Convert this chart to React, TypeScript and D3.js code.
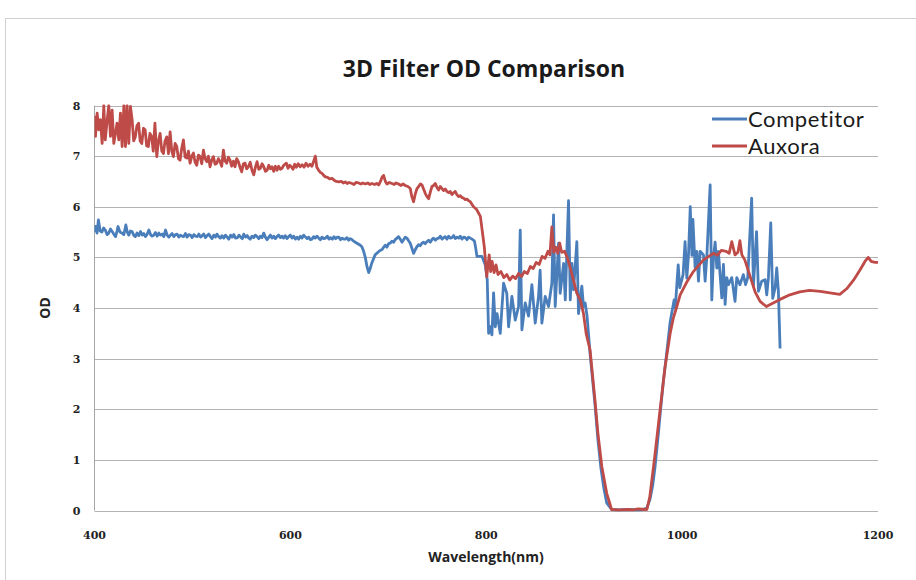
import * as d3 from "d3";

// wavelength (nm), OD pairs
const auxora: [number, number][] = [
  [400, 7.8], [401, 7.39], [402.7, 7.85], [404.4, 7.52], [406, 7.72], [407.8, 7.25], [409.5, 8.0],
  [411, 7.32], [413, 7.72], [414.6, 8.0], [416.3, 7.39], [418, 7.91], [419.7, 7.25], [421.4, 7.45],
  [423, 7.65], [424.8, 7.32], [426.5, 7.85], [428.2, 7.19], [430, 8.0], [431.6, 7.19], [433.3, 8.0],
  [435, 7.25], [436.7, 7.98], [438.4, 7.72], [440, 7.3], [441.7, 7.38], [443.3, 7.6], [445, 7.65],
  [446.6, 7.3], [448.3, 7.25], [450, 7.55], [451.7, 7.52], [453.3, 7.2], [455, 7.19], [456.6, 7.45],
  [458.3, 7.39], [460, 7.1], [461.7, 7.65], [463.6, 6.99], [465.3, 7.3], [467, 7.45], [468.7, 7.1],
  [470.4, 7.05], [472, 7.3], [473.8, 7.38], [475.5, 7.05], [477.2, 7.48], [478.9, 7.1], [480.6, 6.99],
  [482.3, 7.25], [484, 7.19], [485.7, 6.95], [487.4, 6.92], [489, 7.15], [490.8, 7.32], [492.5, 6.98],
  [494.2, 6.96], [495.9, 7.1], [497.6, 6.86], [499.3, 7.0], [501, 7.06], [502.7, 6.88], [504.4, 6.82],
  [506.1, 7.02], [507.8, 6.99], [509.5, 6.85], [511.2, 7.12], [512.9, 6.95], [514.6, 6.89], [516.3, 7.0],
  [518, 6.79], [519.7, 6.92], [521.4, 6.99], [523.1, 6.84], [524.8, 6.86], [526.5, 6.95], [528.2, 6.89],
  [529.9, 6.8], [531.6, 7.12], [533.3, 6.9], [535, 6.86], [536.7, 6.98], [538.4, 6.92], [540, 6.8],
  [541.8, 6.9], [543.5, 6.79], [545.2, 6.95], [546.9, 6.89], [548.6, 6.78], [550.3, 6.69], [552, 6.85],
  [553.7, 6.86], [555.4, 6.75], [557.1, 6.79], [559, 6.88], [560.8, 6.72], [562.6, 6.63], [564.3, 6.78],
  [566, 6.89], [567.7, 6.74], [569.4, 6.76], [571.1, 6.85], [572.8, 6.79], [574.5, 6.7], [576.2, 6.72],
  [578, 6.82], [579.6, 6.75], [581.3, 6.79], [583, 6.7], [584.7, 6.8], [586.4, 6.72], [588, 6.8],
  [589.8, 6.74], [591.5, 6.76], [593.2, 6.82], [595.9, 6.86], [597.6, 6.76], [599.3, 6.82], [601, 6.79],
  [602.7, 6.74], [604.4, 6.84], [606, 6.78], [608, 6.85], [610, 6.79], [612, 6.83], [614, 6.78],
  [616, 6.86], [618, 6.8], [620, 6.84], [622, 6.8], [623.8, 6.9], [625.5, 7.0], [627, 6.78],
  [628.9, 6.72], [630.6, 6.68], [632.3, 6.66], [634, 6.62], [635.7, 6.59], [638, 6.58], [640, 6.55],
  [642.5, 6.56], [645, 6.52], [647, 6.5], [649.3, 6.49], [652, 6.5], [654, 6.47], [656, 6.49],
  [658, 6.46], [660, 6.48], [663, 6.46], [665, 6.44], [667, 6.48], [669.7, 6.47], [672, 6.45],
  [674, 6.47], [676.5, 6.45], [679, 6.47], [681, 6.44], [683.3, 6.46], [686, 6.44], [688, 6.46],
  [690.1, 6.43], [692, 6.5], [693.5, 6.58], [695.2, 6.62], [697, 6.5], [698.6, 6.45], [701, 6.48],
  [703.7, 6.46], [706, 6.44], [708, 6.47], [710.5, 6.45], [713, 6.42], [715, 6.45], [717.3, 6.42],
  [720, 6.4], [722.4, 6.36], [724, 6.2], [725.8, 6.1], [727.5, 6.25], [729.3, 6.36], [731, 6.4],
  [732.7, 6.45], [734.4, 6.43], [736, 6.35], [737.8, 6.26], [739.5, 6.2], [741.2, 6.16], [743, 6.3],
  [744.6, 6.4], [746.3, 6.42], [748, 6.46], [749.7, 6.38], [751.4, 6.33], [753, 6.4], [754.8, 6.36],
  [756.5, 6.32], [758.2, 6.35], [759.9, 6.3], [761.6, 6.28], [763.3, 6.3], [765, 6.24], [766.7, 6.28],
  [768.4, 6.3], [770, 6.24], [771.8, 6.2], [773.5, 6.22], [775.2, 6.18], [777, 6.17], [778.6, 6.14],
  [780.3, 6.15], [782, 6.12], [783.7, 6.1], [787, 6.0], [790, 5.95], [794, 5.81],
  [798, 5.21], [800.5, 4.62], [803, 5.05], [804.5, 4.72], [806, 4.92], [808, 4.7], [810, 4.85],
  [812, 4.66], [815, 4.72], [818, 4.6], [821, 4.66], [824, 4.55], [827, 4.63], [830, 4.58], [833, 4.68],
  [836, 4.62], [839, 4.72], [842, 4.68], [845, 4.82], [848, 4.78], [851, 4.9], [854, 4.86], [857, 5.02],
  [860, 4.98], [863, 5.12], [865, 5.05], [867, 5.6], [869, 5.1], [871, 5.2], [873, 5.08], [875, 5.28],
  [877, 5.1], [880, 5.12], [883, 4.98], [885.7, 4.8], [889, 4.55], [892.5, 4.29], [896, 4.16],
  [899.3, 3.89], [902, 3.5], [906, 3.17], [911, 2.18], [914, 1.53], [918, 0.87], [923, 0.34],
  [928, 0.02], [935, 0.01], [945, 0.02], [950, 0.01], [955, 0.03], [964, 0.02], [967, 0.27],
  [972, 1.06], [977.5, 1.99], [982.6, 2.84], [987.8, 3.5], [991, 3.8], [994.6, 4.03], [998, 4.26],
  [1005, 4.52], [1011.5, 4.72], [1021.8, 4.95], [1032, 5.08], [1036, 5.04], [1040, 5.14], [1045, 5.12],
  [1048, 5.08], [1050.7, 5.31], [1054, 5.05], [1057, 5.1], [1059, 5.33], [1061, 5.05], [1064, 4.95],
  [1069, 4.65], [1074.5, 4.32], [1079.6, 4.13], [1086, 4.03], [1093, 4.1], [1100, 4.17], [1110, 4.26],
  [1120, 4.32], [1130, 4.35], [1141, 4.33], [1151, 4.3], [1161, 4.27], [1168, 4.38], [1175, 4.55],
  [1181.6, 4.75], [1186.7, 4.92], [1190, 5.0], [1193, 4.92], [1197, 4.9], [1200, 4.9],
];

const competitor: [number, number][] = [
  [400, 5.5], [401, 5.61], [402.6, 5.48], [404, 5.74], [405.8, 5.52], [407.6, 5.5], [409.3, 5.58],
  [411, 5.54], [412.8, 5.45], [414.6, 5.48], [416.3, 5.56], [418, 5.51], [419.7, 5.46], [421.5, 5.41],
  [423, 5.52], [424, 5.61], [426, 5.5], [428, 5.48], [430, 5.45], [432, 5.64], [433.5, 5.5], [435, 5.44],
  [436.7, 5.52], [438.4, 5.51], [440, 5.44], [441.7, 5.41], [443.4, 5.48], [445.2, 5.43], [447, 5.51],
  [448.7, 5.44], [450.4, 5.47], [452, 5.41], [453.8, 5.46], [455.5, 5.54], [457.2, 5.45], [458.9, 5.42],
  [460.6, 5.44], [462.3, 5.49], [464, 5.42], [465.7, 5.48], [467.4, 5.44], [469.1, 5.46], [470.8, 5.41],
  [472.5, 5.54], [474.2, 5.44], [475.9, 5.4], [477.6, 5.44], [479.3, 5.47], [481, 5.41], [482.7, 5.45],
  [484.4, 5.46], [486.1, 5.4], [487.8, 5.44], [489.5, 5.42], [491, 5.41], [492.8, 5.47], [494.5, 5.4],
  [496.2, 5.45], [498, 5.44], [499.7, 5.39], [501.4, 5.45], [503.1, 5.42], [505, 5.41], [506.6, 5.46],
  [508.3, 5.4], [510, 5.43], [511.6, 5.46], [513.3, 5.39], [515, 5.43], [516.7, 5.46], [518.4, 5.41],
  [520, 5.37], [521.8, 5.44], [523.5, 5.4], [525, 5.46], [526.8, 5.41], [528.5, 5.38], [530.2, 5.43],
  [532, 5.38], [533.7, 5.44], [535.4, 5.4], [537.1, 5.36], [539, 5.44], [540.6, 5.4], [542.3, 5.45],
  [544, 5.38], [546, 5.39], [547.6, 5.44], [549.3, 5.4], [551, 5.37], [552.4, 5.46], [554.2, 5.4],
  [555.9, 5.43], [557.6, 5.38], [559, 5.36], [560.8, 5.42], [562.5, 5.39], [564.2, 5.44], [566, 5.41],
  [567.7, 5.37], [569.4, 5.42], [571.1, 5.39], [572.8, 5.48], [574.5, 5.4], [576.2, 5.35], [578, 5.4],
  [579.6, 5.44], [581.3, 5.38], [583, 5.42], [584.7, 5.37], [586.4, 5.41], [588, 5.44], [589.8, 5.39],
  [591.5, 5.42], [593, 5.38], [594.8, 5.43], [596.5, 5.37], [598.2, 5.41], [600, 5.44], [601.7, 5.38],
  [603.4, 5.42], [605.1, 5.36], [606.8, 5.4], [608.5, 5.36], [610.2, 5.42], [611.9, 5.38], [613.6, 5.44],
  [615, 5.41], [617, 5.37], [618.7, 5.4], [620.4, 5.35], [622, 5.36], [623.8, 5.41], [625.5, 5.38],
  [627.2, 5.42], [629, 5.38], [630.6, 5.35], [632.3, 5.4], [634, 5.37], [636, 5.38], [637.7, 5.42],
  [639.4, 5.36], [641.1, 5.39], [643, 5.36], [644.5, 5.41], [646.2, 5.37], [648, 5.4], [649.4, 5.4],
  [651.2, 5.35], [652.9, 5.38], [654.6, 5.36], [656, 5.36], [657.8, 5.39], [659.5, 5.34], [661.2, 5.37],
  [663, 5.35], [664.6, 5.32], [666.3, 5.3], [668, 5.28], [669.7, 5.26], [671.4, 5.24], [673, 5.21],
  [674.8, 5.12], [676.5, 5.0], [678.2, 4.82], [680, 4.7], [681.5, 4.78], [683, 4.88], [684.8, 4.97],
  [686.5, 5.05], [688.2, 5.08], [690, 5.11], [691.8, 5.14], [693.5, 5.15], [695.2, 5.2], [697, 5.24],
  [698.6, 5.2], [700.3, 5.27], [702, 5.28], [703.7, 5.32], [705.4, 5.3], [707, 5.35], [708.8, 5.38],
  [710.5, 5.41], [712.2, 5.36], [713.9, 5.3], [715.6, 5.35], [717.3, 5.4], [719, 5.38], [720.7, 5.33],
  [722.4, 5.28], [724.1, 5.18], [725.8, 5.08], [727.5, 5.15], [729.2, 5.21], [730.9, 5.25], [732.6, 5.23],
  [734.3, 5.28], [736, 5.3], [737.7, 5.27], [739.4, 5.31], [741.1, 5.34], [742.8, 5.3], [744.5, 5.35],
  [746.2, 5.38], [748, 5.34], [749.7, 5.37], [751.4, 5.38], [753.1, 5.42], [754.8, 5.36], [756.5, 5.39],
  [758, 5.41], [759.9, 5.36], [761.6, 5.42], [763.3, 5.38], [765, 5.39], [766.7, 5.43], [768.4, 5.37],
  [770.1, 5.4], [772, 5.38], [773.5, 5.42], [775.2, 5.36], [777, 5.4], [778.6, 5.39], [780.3, 5.35],
  [782, 5.4], [783.7, 5.38], [785.4, 5.36], [787, 5.34], [788, 5.32], [789.5, 5.15], [790.5, 5.02],
  [795.6, 5.02], [799, 4.85], [801, 4.56], [802.4, 3.5],
  [804, 3.63], [805.8, 3.47], [807.5, 4.3], [809.2, 3.63], [811, 3.89], [814.3, 3.5], [817.7, 4.49],
  [821, 4.29], [822.8, 3.63], [826.2, 4.23], [829.6, 3.76], [833, 4.03], [834.7, 5.54], [836.4, 3.57],
  [839.8, 4.1], [843.2, 3.84], [846.6, 4.46], [850, 3.7], [853.4, 4.23], [855, 4.75], [856.8, 3.7],
  [860.2, 4.23], [863.6, 4.03], [867, 4.49], [868.7, 5.84], [870.4, 4.03], [873.8, 5.28], [875.5, 4.29],
  [879, 4.88], [880.7, 4.16], [884, 6.12], [885.8, 4.16], [887.5, 4.88], [889.2, 4.36], [892.5, 5.31],
  [894.2, 3.89], [897.6, 4.43], [899.3, 4.03], [901, 4.1], [903, 3.83], [906, 3.1], [911, 2.1],
  [914, 1.4], [917, 0.85], [920, 0.45], [923, 0.15], [928, 0.02], [935, 0.01], [945, 0.02],
  [955, 0.01], [960, 0.02], [964, 0.05], [967, 0.21], [970, 0.5], [972.4, 0.87], [975.8, 1.53],
  [978, 2.0], [981, 2.58], [984, 3.07], [987.8, 3.73], [991.8, 4.16], [993, 4.0], [994.6, 4.46],
  [996, 4.85], [997.6, 4.4], [999.3, 4.53], [1001, 4.66], [1003, 5.31], [1004.8, 4.59], [1006.5, 5.05],
  [1008.3, 6.0], [1010, 5.04], [1011, 5.75], [1013.3, 4.79], [1015, 5.12], [1016.7, 4.53],
  [1018.4, 5.12], [1021.8, 5.05], [1023.5, 4.53], [1025.2, 5.0], [1028.6, 6.43], [1030.3, 4.16],
  [1032, 5.0], [1033.7, 5.3], [1035.4, 4.79], [1037, 5.12], [1040.5, 4.2], [1042.2, 4.86],
  [1043.9, 4.07], [1045.6, 4.6], [1047.3, 4.46], [1049, 4.53], [1050.7, 4.6], [1054, 4.13],
  [1055.8, 4.6], [1059, 4.46], [1062.5, 4.66], [1064.8, 4.46], [1067, 4.6], [1071, 6.17],
  [1072.8, 4.43], [1076, 5.51], [1077.9, 4.33], [1081.3, 4.53], [1084.7, 4.56], [1086.4, 4.26],
  [1088.1, 4.6], [1090.5, 5.68], [1092.5, 4.19], [1095, 4.4], [1096.6, 4.79], [1098.3, 4.33],
  [1100, 3.2],
];

const xTicks = [400, 600, 800, 1000, 1200];
const yTicks = [0, 1, 2, 3, 4, 5, 6, 7, 8];

const series = [
  { name: "Competitor", data: competitor, color: "#4a7ebb" },
  { name: "Auxora", data: auxora, color: "#be4b48" },
];

const width = 916;
const height = 580;
const left = 94.5;
const right = 878;
const top = 105.5;
const bottom = 510.5;

const x = d3.scaleLinear().domain([400, 1200]).range([left, right]);
const y = d3.scaleLinear().domain([0, 8]).range([bottom, top]);

const line = d3
  .line<[number, number]>()
  .x((d) => x(d[0]))
  .y((d) => y(d[1]));

const labelFont = "'Open Sans', sans-serif";
const legendFont = "Lato, 'Open Sans', sans-serif";
const tickFont = "'DejaVu Serif', 'Liberation Serif', serif";

export default function App() {
  return (
    <svg
      width={width}
      height={height}
      style={{ position: "absolute", left: 0, top: 0, background: "#fff" }}
    >
      <defs>
        <clipPath id="plot">
          <rect x={left} y={top - 1} width={right - left} height={bottom - top + 2} />
        </clipPath>
      </defs>
      <rect x={5.5} y={18.5} width={930} height={600} fill="none" stroke="#d0d0d0" />

      <text
        x={484}
        y={77}
        textAnchor="middle"
        fontFamily={labelFont}
        fontWeight={700}
        fontSize={23}
        fill="#1a1a1a"
      >
        3D Filter OD Comparison
      </text>

      {yTicks.map((t) => (
        <g key={t}>
          <line x1={left} x2={right} y1={Math.round(y(t)) + 0.5} y2={Math.round(y(t)) + 0.5} stroke="#b3b3b3" />
          <text
            x={left - 14}
            y={y(t) + 4}
            textAnchor="end"
            fontFamily={tickFont}
            fontWeight={700}
            fontSize={11}
            fill="#222"
          >
            {t}
          </text>
        </g>
      ))}
      <line x1={left} x2={left} y1={top} y2={bottom} stroke="#a6a6a6" />

      {xTicks.map((t) => (
        <text
          key={t}
          x={x(t)}
          y={538.5}
          textAnchor="middle"
          fontFamily={tickFont}
          fontWeight={700}
          fontSize={11}
          fill="#222"
        >
          {t}
        </text>
      ))}

      <g clipPath="url(#plot)">
        {series.map((s) => (
          <path
            key={s.name}
            d={line(s.data) ?? ""}
            fill="none"
            stroke={s.color}
            strokeWidth={2.8}
            strokeLinejoin="round"
          />
        ))}
      </g>

      <text
        x={486}
        y={562}
        textAnchor="middle"
        fontFamily={labelFont}
        fontWeight={700}
        fontSize={14}
        fill="#222"
      >
        Wavelength(nm)
      </text>
      <text
        transform={`translate(50,308) rotate(-90)`}
        textAnchor="middle"
        fontFamily={labelFont}
        fontWeight={700}
        fontSize={14}
        fill="#222"
      >
        OD
      </text>

      {series.map((s, i) => (
        <g key={s.name} transform={`translate(712,${119 + i * 27})`}>
          <line x1={0} x2={35} y1={0} y2={0} stroke={s.color} strokeWidth={2.8} />
          <text
            x={36}
            y={7.5}
            fontFamily={legendFont}
            fontSize={22}
            letterSpacing={0.6}
            fill="#1a1a1a"
          >
            {s.name}
          </text>
        </g>
      ))}
    </svg>
  );
}
